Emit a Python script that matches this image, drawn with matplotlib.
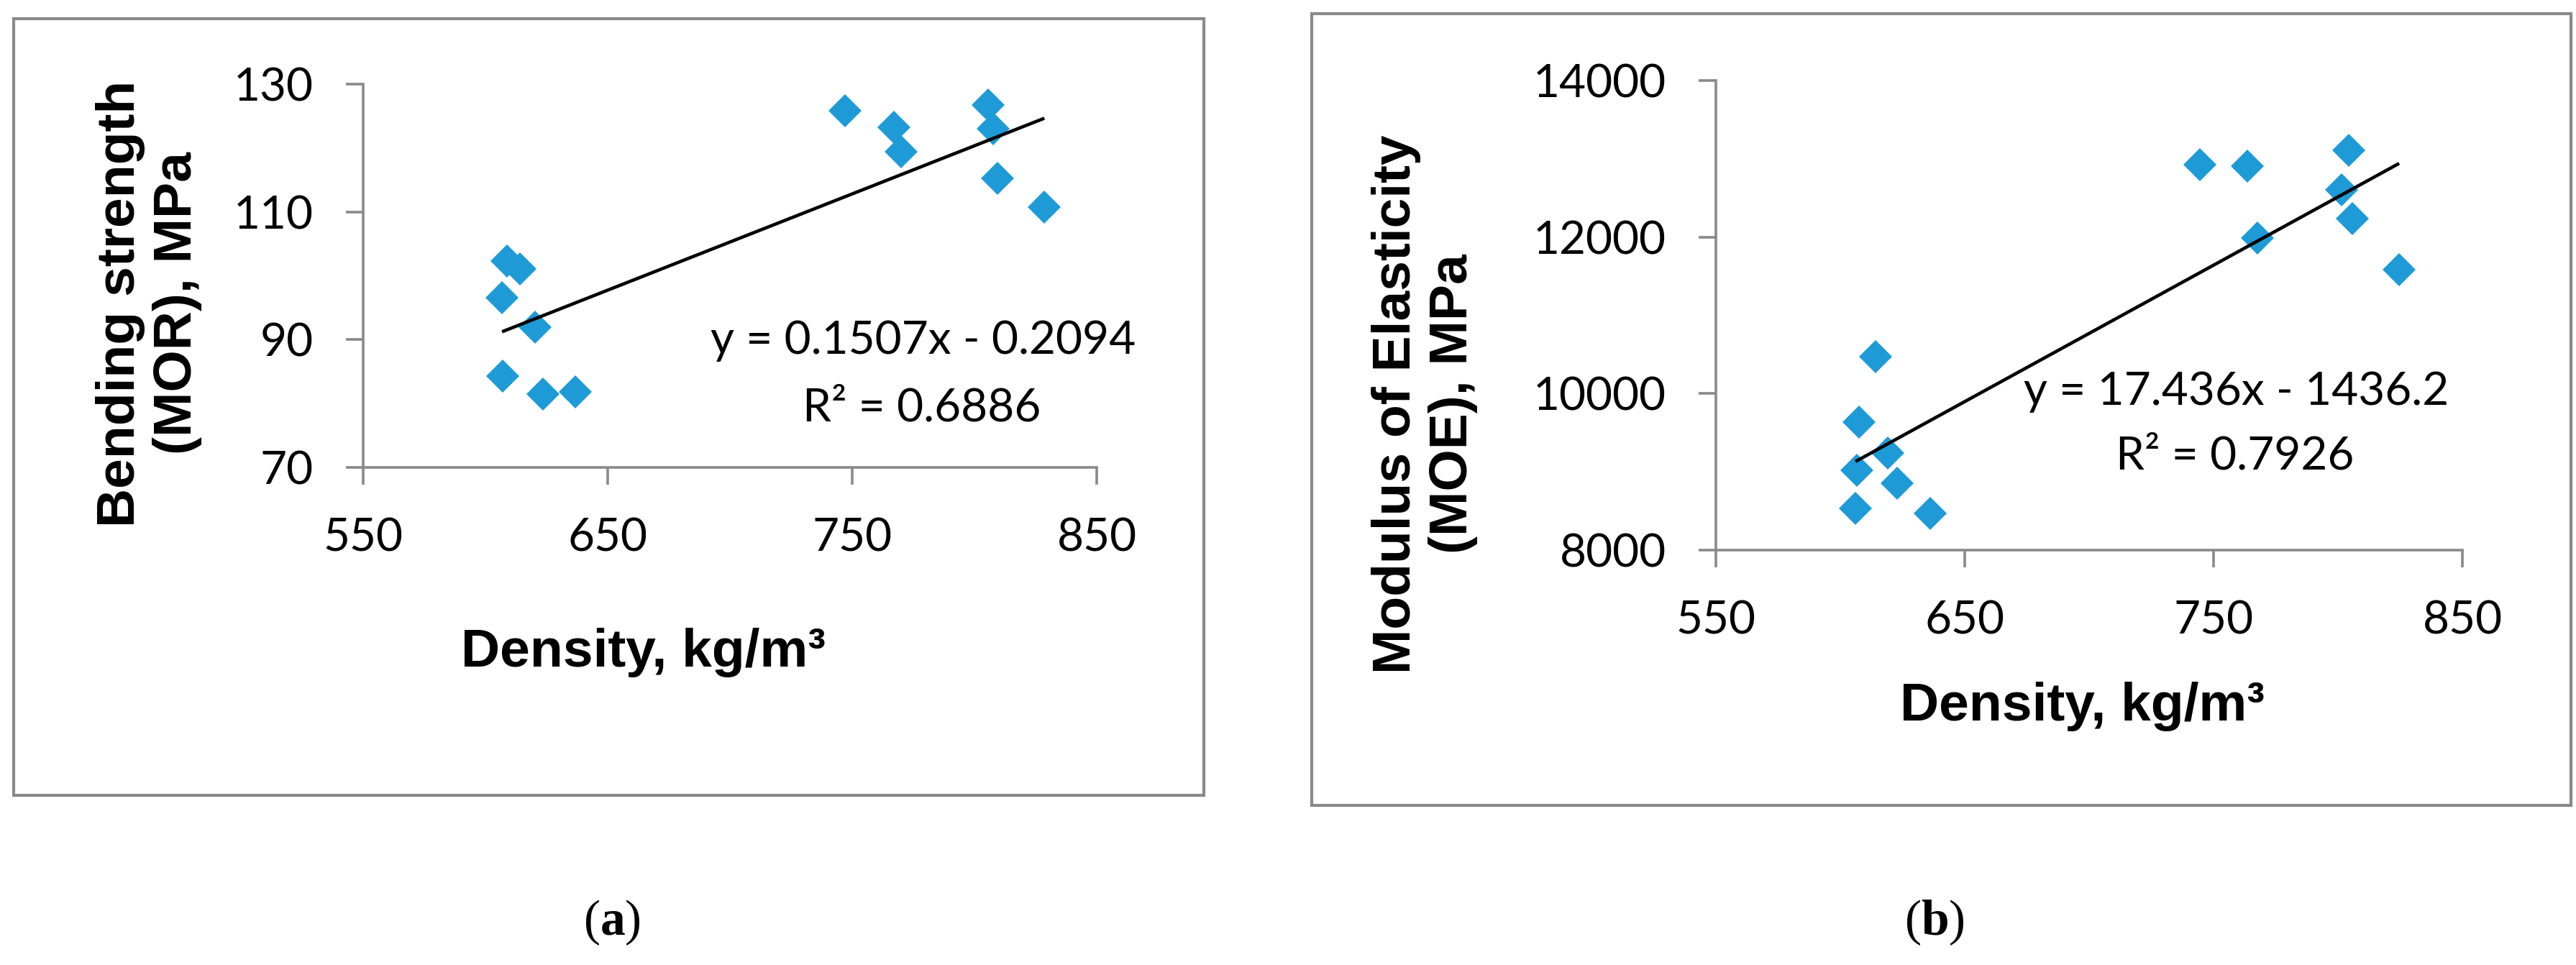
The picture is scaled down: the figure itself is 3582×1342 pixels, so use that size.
import matplotlib
matplotlib.use("Agg")
import matplotlib.pyplot as plt
from matplotlib.patches import Rectangle
import numpy as np

plt.rcParams["mathtext.fontset"] = "custom"
plt.rcParams["mathtext.rm"] = "Liberation Serif"
plt.rcParams["mathtext.bf"] = "Liberation Serif:bold"

# ---------------- data ----------------
mor_density = [747.1, 767.1, 770.0, 805.7, 807.7, 809.4, 828.6,
               608.8, 614.2, 606.8, 620.3, 607.1, 623.6, 636.8]
mor_values = [125.8, 123.2, 119.4, 126.7, 123.0, 115.2, 110.7,
              102.3, 101.1, 96.6, 91.9, 84.3, 81.5, 81.8]
mor_fit = (0.1507, -0.2094)
mor_eq = "y = 0.1507x - 0.2094"
mor_r2 = "R² = 0.6886"
mor_yticks = [70, 90, 110, 130]

moe_density = [744.5, 763.6, 767.6, 804.3, 801.4, 805.8, 824.6,
               614.2, 607.5, 606.6, 619.1, 622.8, 606.1, 636.1]
moe_values = [12929, 12911, 11988, 13105, 12605, 12235, 11588,
              10471, 9631, 9020, 9237, 8854, 8533, 8472]
moe_fit = (17.436, -1436.2)
moe_eq = "y = 17.436x - 1436.2"
moe_r2 = "R² = 0.7926"
moe_yticks = [8000, 10000, 12000, 14000]

xticks = [550, 650, 750, 850]
mor_ylabel = "Bending strength\n(MOR), MPa"
moe_ylabel = "Modulus of Elasticity\n(MOE), MPa"
xlabel = "Density, kg/m³"
captions = ["a", "b"]

# ---------------- style ----------------
W, H = 3582, 1342
DPI = 100
GRAY = "#898989"
BLUE = "#1E9BD7"
TICKFONT = "Lato"
TITLEFONT = "Liberation Sans"

fig = plt.figure(figsize=(W / DPI, H / DPI), dpi=DPI)


def fx(px):
    return px / W


def fy(py):
    return 1 - py / H


def frame(x0, y0, x1, y1):
    r = Rectangle((fx(x0), fy(y1)), fx(x1) - fx(x0), fy(y0) - fy(y1),
                  transform=fig.transFigure, fill=False, edgecolor=GRAY,
                  linewidth=3, zorder=0)
    fig.add_artist(r)


def panel(rect, xs, ys, fit, yticks, ylim):
    ax = fig.add_axes(rect)
    ax.set_xlim(550, 850)
    ax.set_ylim(*ylim)
    ax.plot(xs, ys, linestyle="none", marker="D", markersize=23.4,
            markerfacecolor=BLUE, markeredgewidth=0, zorder=3, clip_on=False)
    x0, x1 = min(xs), max(xs)
    ax.plot([x0, x1], [fit[0] * x0 + fit[1], fit[0] * x1 + fit[1]],
            color="black", linewidth=3.3, zorder=4, solid_capstyle="butt")
    ax.set_xticks(xticks)
    ax.set_yticks(yticks)
    for s in ["top", "right"]:
        ax.spines[s].set_visible(False)
    for s in ["left", "bottom"]:
        ax.spines[s].set_color(GRAY)
        ax.spines[s].set_linewidth(2.6)
    ax.tick_params(direction="out", length=17, width=2.6, color=GRAY,
                   labelsize=46, pad=33)
    for lab in ax.get_xticklabels() + ax.get_yticklabels():
        lab.set_fontfamily(TICKFONT)
    ax.patch.set_alpha(0)
    return ax


# frames
frame(19, 26, 1674, 1106)
frame(1824, 19, 3575, 1120)

# left panel
axL = panel([fx(505), fy(650), fx(1525) - fx(505), fy(117) - fy(650)],
            mor_density, mor_values, mor_fit, mor_yticks, (70, 130))
# right panel
axR = panel([fx(2386), fy(765), fx(3424) - fx(2386), fy(112) - fy(765)],
            moe_density, moe_values, moe_fit, moe_yticks, (8000, 14000))

# axis titles
fig.text(fx(207), fy(422), mor_ylabel, rotation=90, ha="center", va="center",
         multialignment="center", fontsize=54, fontweight="bold",
         family=TITLEFONT, linespacing=1.2)
fig.text(fx(1981), fy(562), moe_ylabel, rotation=90, ha="center", va="center",
         multialignment="center", fontsize=54, fontweight="bold",
         family=TITLEFONT, linespacing=1.2)
fig.text(fx(895), fy(927), xlabel, ha="center", va="baseline",
         fontsize=54, fontweight="bold", family=TITLEFONT)
fig.text(fx(2896), fy(1002), xlabel, ha="center", va="baseline",
         fontsize=54, fontweight="bold", family=TITLEFONT)

# equations
fig.text(fx(1284), fy(492), mor_eq, ha="center", va="baseline",
         fontsize=46, family=TICKFONT)
fig.text(fx(1282), fy(585), mor_r2, ha="center", va="baseline",
         fontsize=46, family=TICKFONT)
fig.text(fx(3110), fy(563), moe_eq, ha="center", va="baseline",
         fontsize=46, family=TICKFONT)
fig.text(fx(3108), fy(653), moe_r2, ha="center", va="baseline",
         fontsize=46, family=TICKFONT)

# captions
for cx, c in zip([851, 2690], captions):
    fig.text(fx(cx), fy(1283), "(" + r"$\mathbf{" + c + "}$" + ")",
             ha="center", va="center", fontsize=50, family="Liberation Serif")

fig.savefig("out.png", dpi=DPI, facecolor="white")
